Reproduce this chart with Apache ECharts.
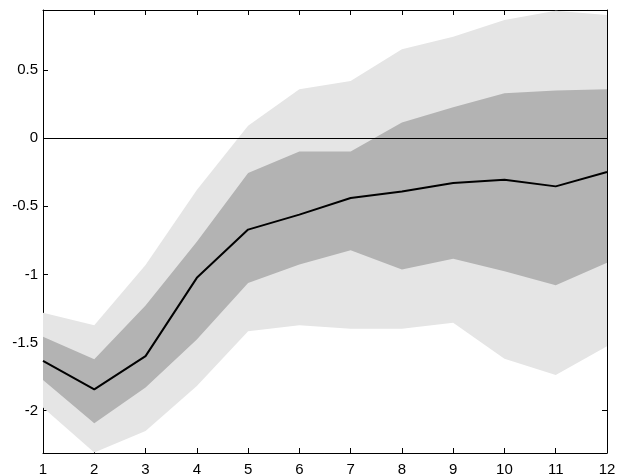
<!DOCTYPE html>
<html>
<head>
<meta charset="utf-8">
<script src="https://cdn.jsdelivr.net/npm/echarts@6/dist/echarts.min.js"></script>
<style>
  html, body { margin: 0; padding: 0; background: #fff; }
  #main { width: 617px; height: 474px; }
</style>
</head>
<body>
<div id="main"></div>
<script>
// horizon 1..12
var steps = [1, 2, 3, 4, 5, 6, 7, 8, 9, 10, 11, 12];
var median = [-1.635, -1.843, -1.599, -1.025, -0.671, -0.561, -0.439, -0.391, -0.33, -0.305, -0.354, -0.249];
var darkHigh = [-1.457, -1.623, -1.228, -0.76, -0.256, -0.098, -0.098, 0.114, 0.227, 0.329, 0.349, 0.359];
var darkLow = [-1.775, -2.092, -1.83, -1.477, -1.062, -0.928, -0.823, -0.964, -0.884, -0.977, -1.079, -0.915];
var lightHigh = [-1.281, -1.372, -0.93, -0.38, 0.09, 0.359, 0.419, 0.652, 0.744, 0.866, 0.934, 0.903];
var lightLow = [-1.977, -2.306, -2.148, -1.818, -1.416, -1.372, -1.398, -1.398, -1.354, -1.618, -1.738, -1.526];
var yTicks = [-2, -1.5, -1, -0.5, 0, 0.5];

function pairs(arr) {
  return arr.map(function (v, i) { return [steps[i], v]; });
}

// one polygon per band, built from the band arrays through the axes
function band(lo, hi, color, z) {
  return {
    type: 'custom', z: z, silent: true,
    data: [[steps[0], lo[0]]],
    renderItem: function (params, api) {
      var pts = [];
      for (var i = 0; i < steps.length; i++) pts.push(api.coord([steps[i], hi[i]]));
      for (var j = steps.length - 1; j >= 0; j--) pts.push(api.coord([steps[j], lo[j]]));
      return {
        type: 'polygon',
        shape: { points: pts },
        style: { fill: color, stroke: null }
      };
    }
  };
}

var chart = echarts.init(document.getElementById('main'));
var font = 'Liberation Sans, Arial, sans-serif';

var option = {
  animation: false,
  backgroundColor: '#fff',
  grid: { left: 43, right: 10, top: 10, bottom: 21, outerBoundsMode: 'none', containLabel: false },
  xAxis: [{
    type: 'value', min: 1, max: 12, interval: 1,
    axisLine: { onZero: false, lineStyle: { color: '#000', width: 1 } },
    axisTick: { inside: true, length: 5, lineStyle: { color: '#000' } },
    axisLabel: { color: '#000', fontSize: 15, fontFamily: font, margin: 9 },
    splitLine: { show: false }
  }, {
    type: 'value', min: 1, max: 12, interval: 1, position: 'top',
    axisLine: { onZero: false, lineStyle: { color: '#000', width: 1 } },
    axisTick: { inside: true, length: 5, lineStyle: { color: '#000' } },
    axisLabel: { show: false },
    splitLine: { show: false }
  }],
  yAxis: [{
    type: 'value', min: -2.31, max: 0.94,
    axisLine: { show: true, onZero: false, lineStyle: { color: '#000', width: 1 } },
    axisTick: { inside: true, length: 5, customValues: yTicks, lineStyle: { color: '#000' } },
    axisLabel: { color: '#000', fontSize: 15, fontFamily: font, margin: 5, customValues: yTicks },
    splitLine: { show: false }
  }, {
    type: 'value', min: -2.31, max: 0.94, position: 'right',
    axisLine: { show: true, onZero: false, lineStyle: { color: '#000', width: 1 } },
    axisTick: { show: true, inside: true, length: 5, customValues: yTicks, lineStyle: { color: '#000' } },
    axisLabel: { show: false },
    splitLine: { show: false }
  }],
  series: [
    band(lightLow, lightHigh, '#e5e5e5', 1),
    band(darkLow, darkHigh, '#b3b3b3', 2),
    {
      type: 'line', data: pairs(median), symbol: 'none', z: 5,
      lineStyle: { color: '#000', width: 2 },
      markLine: {
        silent: true, symbol: 'none', label: { show: false },
        lineStyle: { color: '#000', width: 1, type: 'solid' },
        data: [{ yAxis: 0 }]
      }
    }
  ]
};

chart.setOption(option);
</script>
</body>
</html>
